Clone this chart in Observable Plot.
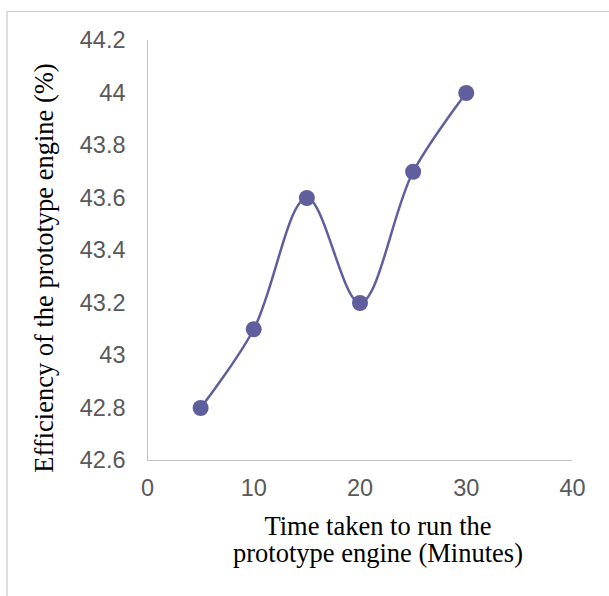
<!DOCTYPE html>
<html>
<head>
<meta charset="utf-8">
<script src="https://cdn.jsdelivr.net/npm/d3@7"></script>
<script src="https://cdn.jsdelivr.net/npm/@observablehq/plot@0.6"></script>
<style>
  html, body { margin: 0; padding: 0; background: #fff; overflow: hidden; }
  #wrap { position: relative; width: 609px; height: 596px; }
  #border { position: absolute; left: 6px; top: 11px; width: 640px; height: 640px;
            border-top: 1px solid #d0d0d0; border-left: 2px solid #dedede; box-sizing: border-box; }
  #chart { position: absolute; left: 0; top: 0; }
</style>
</head>
<body>
<div id="wrap"><div id="border"></div><div id="chart"></div></div>
<script>
const times = [5, 10, 15, 20, 25, 30];
const efficiency = [42.8, 43.1, 43.6, 43.2, 43.7, 44.0];
const xTicks = [0, 10, 20, 30, 40];
const yTicks = [42.6, 42.8, 43.0, 43.2, 43.4, 43.6, 43.8, 44.0, 44.2];
const xTitle = "Time taken to run the\nprototype engine (Minutes)";
const yTitle = "Efficiency of the prototype engine (%)";

const data = times.map((t, i) => ({t, e: efficiency[i]}));
const color = "#605e9c";
const serif = "'Liberation Serif', 'Times New Roman', serif";

const chart = Plot.plot({
  width: 609,
  height: 596,
  marginLeft: 147,
  marginRight: 37,
  marginTop: 40,
  marginBottom: 136,
  style: {fontFamily: "'Liberation Sans', Arial, sans-serif", fontSize: "23.5px", color: "#595959", background: "transparent"},
  x: {domain: [0, 40], ticks: xTicks, tickSize: 0, tickPadding: 19, label: null, tickFormat: d => String(d)},
  y: {domain: [42.6, 44.2], ticks: yTicks, tickSize: 0, tickPadding: 22, label: null, tickFormat: d => String(+d.toFixed(1))},
  marks: [
    Plot.ruleX([0], {stroke: "#c4c4c4", strokeWidth: 1}),
    Plot.ruleY([42.6], {stroke: "#c4c4c4", strokeWidth: 1}),
    Plot.line(data, {x: "t", y: "e", curve: "catmull-rom", stroke: color, strokeWidth: 2.5}),
    Plot.dot(data, {x: "t", y: "e", r: 8, fill: color, stroke: "none"}),
    Plot.text([xTitle], {frameAnchor: "bottom", dx: 18, dy: 55, lineAnchor: "top", lineHeight: 1.02, fontSize: 26.5, fill: "#000", fontFamily: serif}),
    Plot.text([yTitle], {frameAnchor: "left", dx: -103, dy: 17.5, rotate: -90, textAnchor: "middle", fontSize: 26.5, fill: "#000", fontFamily: serif})
  ]
});
document.getElementById("chart").appendChild(chart);
</script>
</body>
</html>
